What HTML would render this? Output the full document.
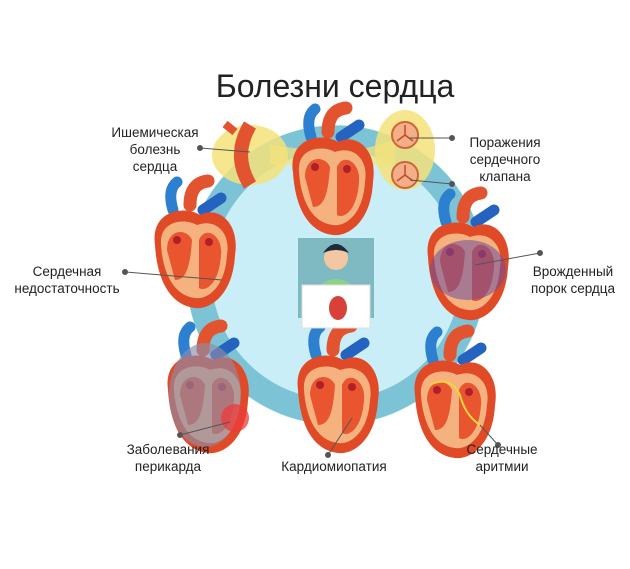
<!DOCTYPE html>
<html><head><meta charset="utf-8"><style>
body{margin:0;background:#fff}
svg text{font-family:"Liberation Sans",sans-serif;fill:#222}
</style></head><body>
<svg width="630" height="564" viewBox="0 0 630 564" xmlns="http://www.w3.org/2000/svg">
<defs>
<g id="h">
 <path d="M-22,-40 q-6,-20 4,-28" stroke="#2d7fd0" stroke-width="11" fill="none" stroke-linecap="round"/>
 <path d="M-5,-45 q0,-22 18,-24" stroke="#e2542f" stroke-width="13" fill="none" stroke-linecap="round"/>
 <path d="M8,-40 l18,-12" stroke="#2563c0" stroke-width="11" stroke-linecap="round"/>
 <path d="M-40,-5 C-45,-40 -10,-45 5,-35 C25,-45 45,-25 40,5 C38,45 15,60 0,58 C-25,55 -38,30 -40,-5Z" fill="#e04a26"/>
 <path d="M-34,-5 C-36,-30 -10,-32 2,-25 C20,-32 36,-18 32,5 C30,38 12,50 0,48 C-20,46 -32,25 -34,-5Z" fill="#f6b27e"/>
 <path d="M-28,0 C-28,-22 -8,-22 -3,-10 C-5,20 -10,30 -20,30Z" fill="#e8552f"/>
 <path d="M4,-10 C10,-25 28,-15 26,5 C24,35 10,42 4,38Z" fill="#e8552f"/>
 <circle cx="-18" cy="-10" r="4" fill="#b0202a"/><circle cx="14" cy="-8" r="4" fill="#b0202a"/>
</g>
</defs>
<text x="335" y="97" font-size="32" text-anchor="middle">Болезни сердца</text>
<circle cx="336" cy="275" r="150" fill="#c9eef8"/>
<circle cx="336" cy="275" r="137" fill="none" stroke="#7cc4d5" stroke-width="25"/>
<!-- yellow highlights -->
<ellipse cx="250" cy="155" rx="38" ry="30" fill="#f5e27a" opacity=".85"/>
<ellipse cx="405" cy="150" rx="30" ry="40" fill="#f5e27a" opacity=".85"/>
<path d="M270,145 L310,150 L310,165 L270,165Z" fill="#f5e27a" opacity=".7"/>
<path d="M360,150 L395,140 L395,165 L360,165Z" fill="#f5e27a" opacity=".7"/>
<path d="M250,125 q-18,30 0,60" stroke="#e2542f" stroke-width="14" fill="none"/>
<path d="M235,132 l-10,-8" stroke="#e2542f" stroke-width="8"/>
<circle cx="405" cy="135" r="13" fill="#f3b088" stroke="#d0643a" stroke-width="2"/>
<path d="M405,135 v-10 M405,135 l-8,6 M405,135 l8,6" stroke="#c24a2a" stroke-width="1.5"/>
<circle cx="405" cy="175" r="13" fill="#f3b088" stroke="#d0643a" stroke-width="2"/>
<path d="M405,175 v-10 M405,175 l-8,6 M405,175 l8,6" stroke="#c24a2a" stroke-width="1.5"/>
<use href="#h" x="333" y="177"/>
<use href="#h" x="195" y="250"/>
<use href="#h" x="468" y="262"/>
<ellipse cx="468" cy="270" rx="38" ry="30" fill="#6a4fa0" opacity=".55"/>
<use href="#h" x="208" y="395"/>
<ellipse cx="205" cy="395" rx="36" ry="52" fill="#8d8ca8" opacity=".65"/>
<circle cx="235" cy="418" r="14" fill="#ef3b3b" opacity=".75"/>
<use href="#h" x="338" y="395"/>
<use href="#h" x="455" y="400"/>
<path d="M430,385 q20,-10 30,10 q5,20 20,30" stroke="#f4d43a" stroke-width="2" fill="none"/>
<!-- person -->
<rect x="298" y="238" width="76" height="80" fill="#7fb9c2"/>
<circle cx="336" cy="258" r="12" fill="#f3c6a4"/>
<path d="M323,253 q13,-18 26,0 q-13,-6 -26,0Z" fill="#1d2b3a"/>
<path d="M315,290 q21,-22 42,0Z" fill="#8fd08a"/>
<rect x="302" y="285" width="68" height="43" fill="#fff" stroke="#ddd"/>
<ellipse cx="338" cy="308" rx="9" ry="12" fill="#d8413a"/>
<!-- connectors -->
<g stroke="#555" stroke-width="1" fill="#555">
<line x1="200" y1="148" x2="250" y2="152"/><circle cx="200" cy="148" r="2.5"/>
<line x1="452" y1="138" x2="410" y2="138"/><circle cx="452" cy="138" r="2.5"/>
<line x1="452" y1="184" x2="410" y2="180"/><circle cx="452" cy="184" r="2.5"/>
<line x1="125" y1="272" x2="222" y2="280"/><circle cx="125" cy="272" r="2.5"/>
<line x1="540" y1="253" x2="475" y2="265"/><circle cx="540" cy="253" r="2.5"/>
<line x1="180" y1="435" x2="230" y2="422"/><circle cx="180" cy="435" r="2.5"/>
<line x1="328" y1="455" x2="352" y2="418"/><circle cx="328" cy="455" r="2.5"/>
<line x1="498" y1="445" x2="480" y2="425"/><circle cx="498" cy="445" r="2.5"/>
</g>
<g font-size="13.5">
<text x="155" y="137" text-anchor="middle">Ишемическая</text>
<text x="155" y="154" text-anchor="middle">болезнь</text>
<text x="155" y="171" text-anchor="middle">сердца</text>
<text x="505" y="147" text-anchor="middle">Поражения</text>
<text x="505" y="164" text-anchor="middle">сердечного</text>
<text x="505" y="181" text-anchor="middle">клапана</text>
<text x="67" y="276" text-anchor="middle">Сердечная</text>
<text x="67" y="293" text-anchor="middle">недостаточность</text>
<text x="573" y="276" text-anchor="middle">Врожденный</text>
<text x="573" y="293" text-anchor="middle">порок сердца</text>
<text x="168" y="454" text-anchor="middle">Заболевания</text>
<text x="168" y="471" text-anchor="middle">перикарда</text>
<text x="334" y="471" text-anchor="middle">Кардиомиопатия</text>
<text x="502" y="454" text-anchor="middle">Сердечные</text>
<text x="502" y="471" text-anchor="middle">аритмии</text>
</g>
</svg>
</body></html>
